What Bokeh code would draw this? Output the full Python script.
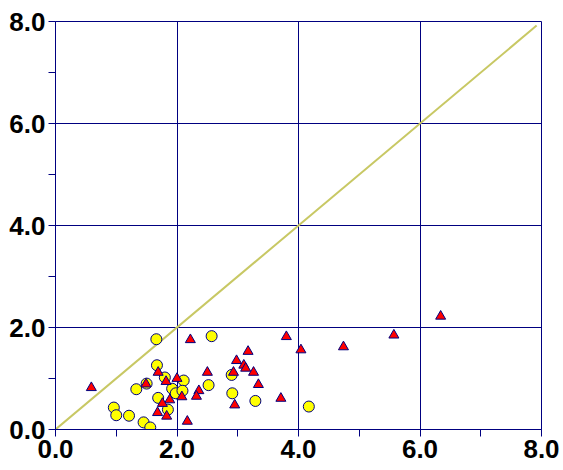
from bokeh.plotting import figure
from bokeh.models import Range1d, FixedTicker, NumeralTickFormatter, ColumnDataSource
from bokeh.embed import file_html
from bokeh.resources import INLINE

# Circle series (yellow)
circ_x = [1.66, 2.57, 1.67, 1.80, 1.50, 1.33, 2.11, 1.92, 1.98, 2.09, 2.52, 2.90,
          2.91, 1.69, 1.85, 0.96, 1.00, 1.21, 1.45, 1.56, 3.29, 4.17]
circ_y = [1.77, 1.83, 1.26, 1.02, 0.90, 0.79, 0.96, 0.80, 0.71, 0.76, 0.87, 1.07,
          0.71, 0.62, 0.39, 0.43, 0.28, 0.27, 0.14, 0.04, 0.56, 0.45]

# Triangle series (red)
tri_x = [2.22, 0.59, 1.69, 1.49, 1.82, 2.00, 2.50, 2.36, 2.32, 2.08, 1.88, 1.76,
         1.68, 1.83, 2.17, 2.98, 2.93, 2.95, 3.80, 4.04, 4.74, 3.17, 3.10, 3.13,
         3.26, 3.34, 3.71, 6.34, 5.57]
tri_y = [1.76, 0.82, 1.12, 0.89, 0.94, 1.00, 1.12, 0.76, 0.65, 0.64, 0.58, 0.51,
         0.33, 0.26, 0.16, 1.35, 1.12, 0.48, 1.82, 1.56, 1.62, 1.53, 1.26, 1.20,
         1.12, 0.88, 0.61, 2.22, 1.85]

# Identity reference line
diag = [0.0, 7.92]

ticks = [0, 2, 4, 6, 8]
minor = [1, 3, 5, 7]
NAVY = "#000080"

p = figure(width=563, height=470, output_backend="svg", toolbar_location=None,
           x_range=Range1d(0, 8), y_range=Range1d(0, 8),
           min_border_left=55, min_border_top=21, min_border_right=22, min_border_bottom=41)
p.outline_line_color = NAVY
p.outline_line_width = 1

for ax in (p.xaxis[0], p.yaxis[0]):
    ax.ticker = FixedTicker(ticks=ticks, minor_ticks=minor)
    ax.formatter = NumeralTickFormatter(format="0.0")
    ax.axis_line_color = NAVY
    ax.major_tick_line_color = NAVY
    ax.minor_tick_line_color = NAVY
    ax.major_tick_in = 0
    ax.major_tick_out = 7
    ax.minor_tick_in = 0
    ax.minor_tick_out = 7
    ax.major_label_text_font = "Liberation Sans"
    ax.major_label_text_font_style = "bold"
    ax.major_label_text_font_size = "26px"
    ax.major_label_text_color = "black"
    ax.major_label_standoff = 3

for g in (p.xgrid[0], p.ygrid[0]):
    g.grid_line_color = NAVY
    g.grid_line_width = 1

p.line(diag, diag, line_color="#C8C864", line_width=2)

csrc = ColumnDataSource(dict(x=circ_x, y=circ_y))
tsrc = ColumnDataSource(dict(x=tri_x, y=tri_y))
p.scatter("x", "y", source=csrc, marker="circle", size=11,
          fill_color="#FFFF00", line_color=NAVY, line_width=1)
p.scatter("x", "y", source=tsrc, marker="triangle", size=10,
          fill_color="#FF0000", line_color=NAVY, line_width=1)

open("out.html", "w").write(file_html(p, INLINE))
